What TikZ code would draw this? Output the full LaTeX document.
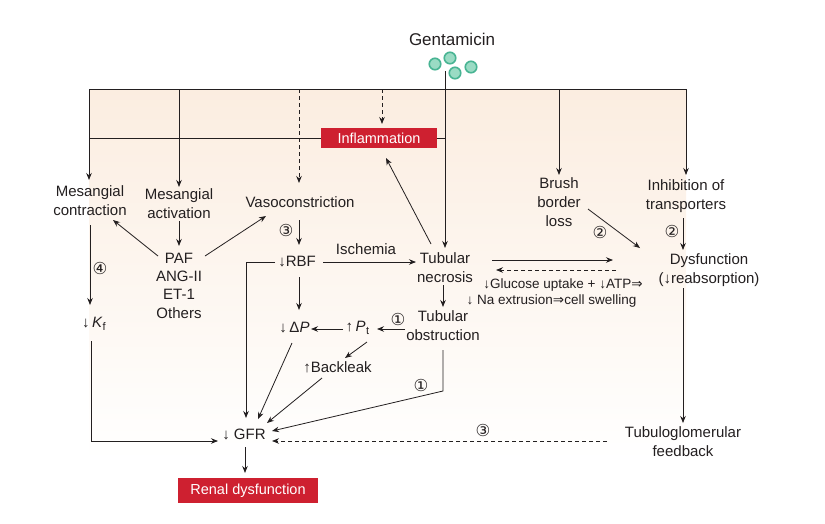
\documentclass[tikz,border=0pt]{standalone}
\usepackage{fontspec}
\setmainfont{Liberation Sans}
\newfontfamily\dv{DejaVu Sans}
\usetikzlibrary{arrows.meta,calc}
\definecolor{ink}{HTML}{231F20}
\definecolor{peachA}{HTML}{FBEDE0}
\definecolor{peachB}{HTML}{FDF4EC}
\definecolor{boxred}{HTML}{CE2030}
\definecolor{ballout}{HTML}{48B493}
\definecolor{ballin}{HTML}{9ADBC4}
\begin{document}
\begin{tikzpicture}[x=1pt,y=-1pt,
 txt/.style={font=\fontsize{15}{19}\selectfont, align=center, inner sep=0pt, text=ink},
 sm/.style={font=\fontsize{13.5}{16}\selectfont, inner sep=0pt, text=ink},
 num/.style={font=\dv\fontsize{16.5}{16.5}\selectfont, inner sep=0pt, text=ink},
 redbox/.style={fill=boxred, text=white, font=\fontsize{14.5}{16}\selectfont, inner sep=0pt},
 ball/.style={circle, minimum size=11.5pt, inner sep=0pt, draw=ballout, line width=1.6pt, fill=ballin},
 arr/.style={draw=ink, line width=0.8pt, -{Stealth[length=7pt,width=5.5pt]}},
 ln/.style={draw=ink, line width=0.8pt},
 dsh/.style={dash pattern=on 4pt off 3pt},
]
\useasboundingbox (0,0) rectangle (825,523);
% background
\shade[top color=peachA, middle color=peachB, bottom color=white] (89,89) rectangle (686,460);

% Gentamicin
\node[txt, font=\fontsize{17}{20}\selectfont] (gent) at (452,39) {Gentamicin};
\coordinate (gsrc) at (445,71);
\node[ball] (b1) at (435,64) {};
\node[ball] (b2) at (450,58) {};
\node[ball] (b4) at (471,67) {};

% nodes
\node[txt] (mc) at (90,200.5) {Mesangial\\contraction};
\node[txt] (ma) at (179,203.5) {Mesangial\\activation};
\node[txt] (vaso) at (300,202) {Vasoconstriction};
\node[txt] (bb) at (559,202) {Brush\\border\\loss};
\node[txt] (inh) at (686,196) {Inhibition of\\transporters};
\node[txt, font=\fontsize{15}{18.3}\selectfont] (paf) at (179,285.5) {PAF\\ANG-II\\ET-1\\Others};
\node[txt] (rbf) at (297,262) {↓RBF};
\node[txt] (isch) at (366,249) {Ischemia};
\node[txt] (tn) at (445,268) {Tubular\\necrosis};
\node[txt] (to) at (443,325.5) {Tubular\\obstruction};
\node[txt] (dp) at (294.5,328) {↓\,Δ\textit{P}};
\node[txt] (pt) at (357.5,328) {↑\,\textit{P}\kern0.5pt\raisebox{-0.35ex}{\fontsize{11}{11}\selectfont t}};
\node[txt] (bl) at (337.5,367) {↑Backleak};
\node[txt] (kf) at (94,324) {↓\,\textit{K}\raisebox{-0.35ex}{\fontsize{11}{11}\selectfont f}};
\node[txt] (gfr) at (244,434) {↓ GFR};
\node[txt] (dys) at (709,270) {Dysfunction\\(↓reabsorption)};
\node[txt] (tgf) at (683,442) {Tubuloglomerular\\feedback};
\node[sm] (gl) at (563,285) {↓Glucose uptake + ↓ATP{\dv ⇒}};
\node[sm] (na) at (551.5,301) {↓ Na extrusion{\dv ⇒}cell swelling};

% circled numbers
\node[num] (n3a) at (286,230) {③};
\node[num] (n4) at (100,268) {④};
\node[num] (n1a) at (398,319) {①};
\node[num] (n1b) at (421,385) {①};
\node[num] (n2a) at (600,232) {②};
\node[num] (n2b) at (672,231) {②};
\node[num] (n3b) at (483,430) {③};

% top distribution bar
\coordinate (tl) at (89,89);
\coordinate (tr) at (686,89);
\draw[ln] (tl) -- (tr);
\draw[ln] (tl|-138,138) -- (gsrc|-138,138);
\node[redbox, minimum width=116pt, minimum height=20pt] (infl) at (379,138) {Inflammation};
\node[redbox, minimum width=140pt, minimum height=25pt] (rd) at (248,490.5) {Renal dysfunction};

\draw[arr] (gsrc) -- ($(tn)+(0,-20)$);
\node[ball] (b3) at (455,73) {};
\draw[arr] (tl) -- ($(mc)+(-1,-20.5)$);
\draw[arr] (ma|-tl) -- ($(ma)+(0,-16.5)$);
\draw[arr,dsh] ($(vaso|-tl)+(-1,0)$) -- ($(vaso)+(-1,-19)$);
\draw[arr,dsh] ($(infl|-tl)+(3,0)$) -- ($(infl)+(3,-14)$);
\draw[arr] (bb|-tl) -- ($(bb)+(0,-27)$);
\draw[arr] (tr) -- ($(inh)+(0,-21)$);

% left part
\draw[arr] ($(mc)+(0,24.5)$) -- ($(kf)+(-4,-19)$);
\draw[arr] ($(ma)+(0,17.5)$) -- ($(paf)+(0,-39.5)$);
\draw[arr] ($(paf)+(-21,-29.5)$) -- ($(mc)+(23,19.5)$);
\draw[arr] ($(paf)+(26,-29.5)$) -- ($(vaso)+(-34,14)$);
\draw[arr] ($(vaso)+(-1,18)$) -- ($(rbf)+(2,-17)$);
\draw[arr] ($(rbf)+(26,0)$) -- ($(tn)+(-29,-6)$);
\draw[arr] ($(rbf)+(-22,0)$) -| ($(gfr)+(2,-16)$);
\draw[arr] ($(rbf)+(2,15)$) -- ($(dp)+(4.5,-18)$);
\draw[arr] ($(tn)+(-2,17)$) -- ($(to)+(0,-18.5)$);
\draw[arr] ($(tn)+(-14,-24)$) -- ($(infl)+(7,20)$);
\draw[arr] ($(to)+(-38,3.5)$) -- ($(pt)+(19.5,1)$);
\draw[arr] ($(pt)+(-14.5,1)$) -- ($(dp)+(16.5,1)$);
\draw[arr] ($(pt)+(9.5,14)$) -- ($(bl)+(7.5,-9)$);
\draw[arr] ($(dp)+(-2.5,15)$) -- ($(gfr)+(14,-15)$);
\draw[arr] ($(bl)+(-15.5,11)$) -- ($(gfr)+(23,-11)$);
\draw[arr] ($(to)+(0,24.5)$) -- ($(to)+(0,65.5)$) -- ($(gfr)+(28,-3)$);
\draw[arr] ($(kf)+(-3,17)$) |- ($(gfr)+(-26,7)$);
\draw[arr] ($(gfr)+(1,13)$) -- ($(rd)+(-3,-17.5)$);

% right part
\draw[arr] ($(tn)+(47,-8)$) -- ($(dys)+(-96,-10)$);
\draw[arr,dsh] ($(dys)+(-93,0)$) -- ($(tn)+(51,2)$);
\draw[arr] ($(bb)+(29,7)$) -- ($(dys)+(-69,-22)$);
\draw[arr] ($(inh)+(-3,22)$) -- ($(dys)+(-26,-20)$);
\draw[arr] ($(dys)+(-26,18)$) -- ($(tgf)+(0,-19)$);
\draw[arr,dsh] ($(tgf)+(-76,-1)$) -- ($(gfr)+(28,7)$);
\end{tikzpicture}
\end{document}
